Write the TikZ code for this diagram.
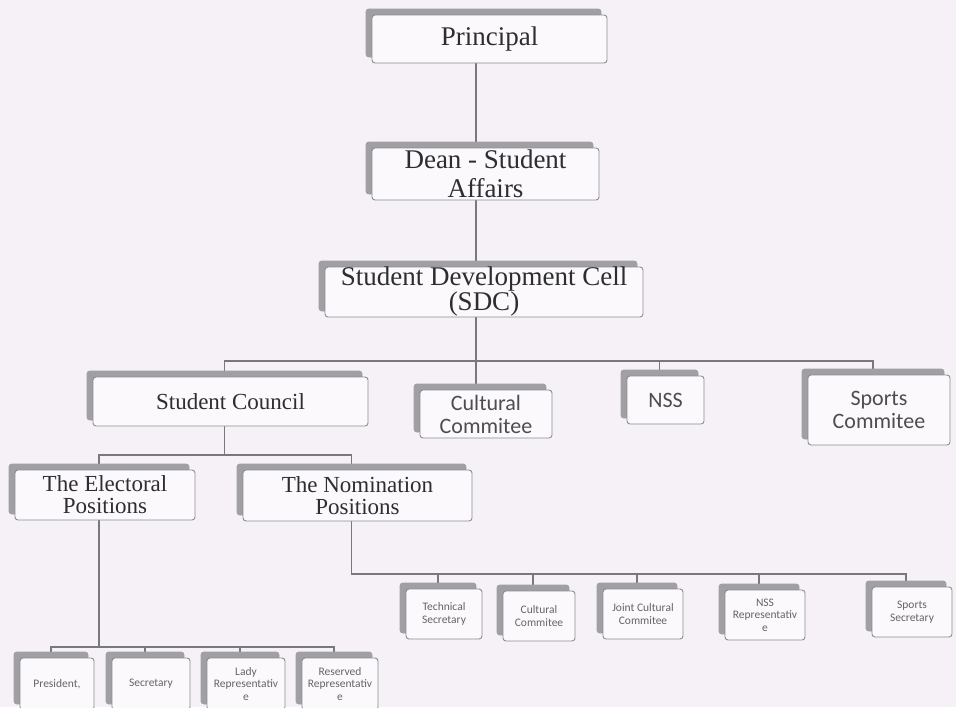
\documentclass[tikz,border=0pt]{standalone}
\usepackage{fontspec}
\usetikzlibrary{shadows}
\newfontfamily\serifF{Liberation Serif}
\newfontfamily\sansF{Carlito}
\definecolor{bgcol}{RGB}{246,241,247}
\definecolor{boxfill}{RGB}{251,249,252}
\definecolor{boxline}{RGB}{140,140,145}
\definecolor{backgray}{RGB}{160,160,164}
\definecolor{connc}{RGB}{120,120,125}
\definecolor{txt}{RGB}{45,45,50}
\definecolor{txtlight}{RGB}{100,100,105}
\pgfdeclarelayer{background}
\pgfsetlayers{background,main}
\begin{document}
\begin{tikzpicture}[x=1pt,y=-1pt,
  box/.style={draw=boxline, fill=boxfill, rounded corners=3pt, line width=0.9pt,
    align=center, inner sep=0pt, text=txt,
    copy shadow={shadow xshift=-6pt, shadow yshift=6pt, fill=backgray, draw=backgray, rounded corners=3pt}},
  bigserif/.style={font=\serifF\fontsize{27}{29}\selectfont},
  midserif/.style={font=\serifF\fontsize{23}{22}\selectfont},
  midsans/.style={font=\sansF\fontsize{22}{23}\selectfont, text=txt!85!white},
  smallsans/.style={font=\sansF\fontsize{11.5}{12.5}\selectfont, text=txtlight},
  smallbox/.style={box, smallsans, minimum height=50pt},
  conn/.style={draw=connc, line width=1.1pt}]
\useasboundingbox (0,0) rectangle (956,707);

% level 1-3
\node[box,bigserif,minimum width=235pt,minimum height=48pt] (principal) at (489.5,39) {Principal};
\node[box,bigserif,minimum width=227pt,minimum height=52pt] (dean) at (485.5,174) {Dean - Student\\Affairs};
\node[box,font=\serifF\fontsize{27}{25}\selectfont,minimum width=318pt,minimum height=50pt] (sdc) at (484,292) {Student Development Cell\\(SDC)};

% level 4
\node[box,midserif,minimum width=275pt,minimum height=49pt] (council) at (230.5,401.5) {Student Council};
\node[box,midsans,minimum width=132pt,minimum height=48pt] (cultural) at (486,414) {Cultural\\Commitee};
\node[box,midsans,minimum width=77pt,minimum height=48pt] (nss) at (665.5,400) {NSS};
\node[box,midsans,minimum width=142pt,minimum height=70pt] (sports) at (879,410) {Sports\\Commitee};

% level 5
\node[box,midserif,minimum width=180pt,minimum height=50pt] (electoral) at (105,495) {The Electoral\\Positions};
\node[box,midserif,minimum width=229pt,minimum height=51pt] (nomination) at (357.5,495.5) {The Nomination\\Positions};

% nomination positions
\node[smallbox,minimum width=76pt] (tech) at (444,614) {Technical\\Secretary};
\node[smallbox,minimum width=72pt] (cultc) at (539,616) {Cultural\\Commitee};
\node[smallbox,minimum width=80pt] (joint) at (643,614) {Joint Cultural\\Commitee};
\node[smallbox,minimum width=80pt] (nssrep) at (765,615) {NSS\\Representativ\\e};
\node[smallbox,minimum width=80pt] (sportsec) at (912,612) {Sports\\Secretary};

% electoral positions
\node[smallbox,minimum width=74pt,minimum height=52pt] (president) at (57,684) {President,};
\node[smallbox,minimum width=78pt,minimum height=52pt] (secretary) at (151,684) {Secretary};
\node[smallbox,minimum width=78pt,minimum height=52pt] (lady) at (246,684) {Lady\\Representativ\\e};
\node[smallbox,minimum width=76pt,minimum height=52pt] (reserved) at (340,684) {Reserved\\Representativ\\e};

\begin{pgfonlayer}{background}
\fill[bgcol] (0,0) rectangle (956,707);
\coordinate (spine) at (476,0);
\coordinate (yA) at (0,361);
\coordinate (yB) at (0,455);
\coordinate (yD) at (0,574);
\coordinate (yC) at (0,647);
\foreach \n in {council,nss,sports,electoral,nomination,tech,cultc,joint,nssrep,sportsec,president,secretary,lady,reserved}{
  \path ([xshift=-6pt]\n.north) coordinate (\n-t) ([xshift=-6pt]\n.south) coordinate (\n-b);
}
% spine
\draw[conn] (principal.south -| spine) -- (dean.north -| spine);
\draw[conn] (dean.south -| spine) -- (sdc.north -| spine);
\draw[conn] (sdc.south -| spine) -- (cultural.north -| spine);
% bus A
\draw[conn] (council-t) -- (council-t |- yA) -- (sports-t |- yA) -- (sports-t);
\draw[conn] (nss-t |- yA) -- (nss-t);
% council -> positions
\draw[conn] (council-b) -- (council-b |- yB);
\draw[conn] (electoral-t) -- (electoral-t |- yB) -- (nomination-t |- yB) -- (nomination-t);
% electoral -> bottom row
\draw[conn] (electoral-b) -- (electoral-b |- yC);
\draw[conn] (president-t) -- (president-t |- yC) -- (reserved-t |- yC) -- (reserved-t);
\draw[conn] (secretary-t |- yC) -- (secretary-t);
\draw[conn] (lady-t |- yC) -- (lady-t);
% nomination -> row
\draw[conn] (nomination-b) -- (nomination-b |- yD) -- (sportsec-t |- yD) -- (sportsec-t);
\draw[conn] (tech-t |- yD) -- (tech-t);
\draw[conn] (cultc-t |- yD) -- (cultc-t);
\draw[conn] (joint-t |- yD) -- (joint-t);
\draw[conn] (nssrep-t |- yD) -- (nssrep-t);
\end{pgfonlayer}
\end{tikzpicture}
\end{document}
